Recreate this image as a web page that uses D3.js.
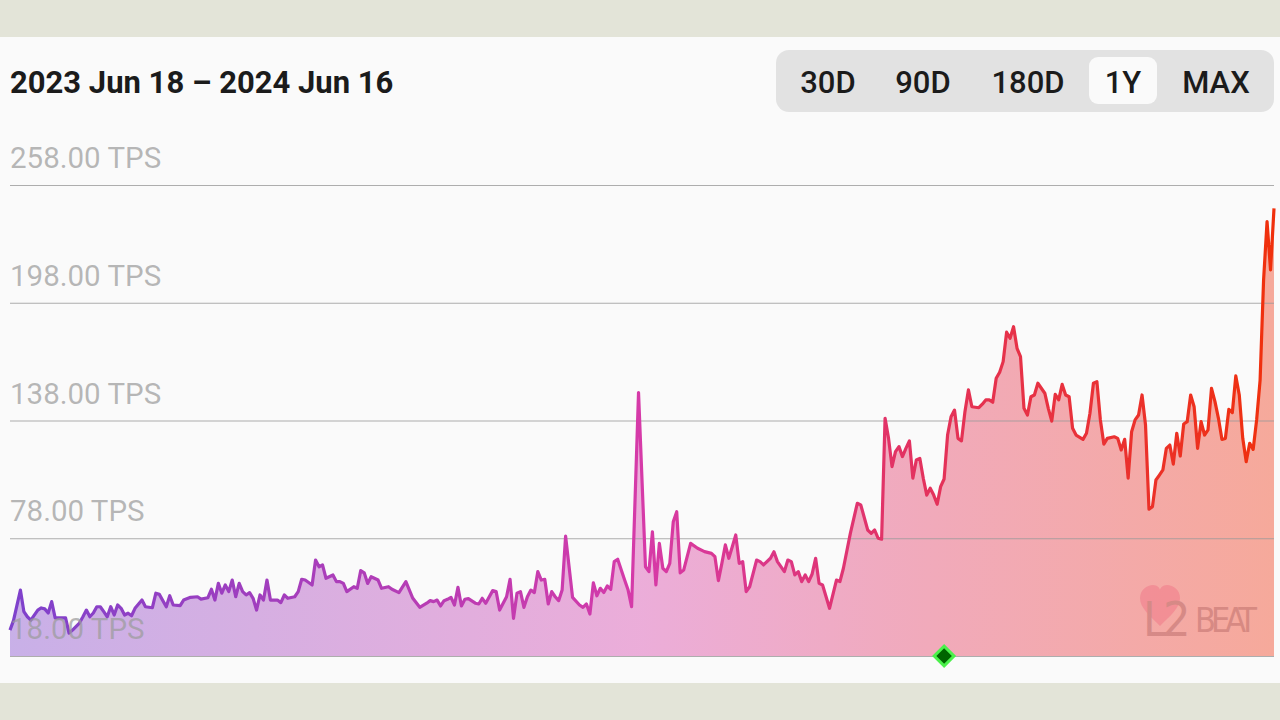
<!DOCTYPE html>
<html><head><meta charset="utf-8">
<script src="https://cdn.jsdelivr.net/npm/d3@7"></script>
<style>
html,body{margin:0;padding:0;background:#e3e4d8;}
svg{display:block;font-family:Roboto,"Noto Sans",sans-serif;}
</style></head>
<body>
<svg id="chart" width="1280" height="720"></svg>
<script>
const startDate = "2023-06-18";
const endDate = "2024-06-16";
const titleText = "2023 Jun 18 – 2024 Jun 16";
const rangeButtons = ["30D", "90D", "180D", "1Y", "MAX"];
const activeButton = "1Y";
const yTicks = [18, 78, 138, 198, 258];
const milestoneDay = 269; // Dencun upgrade
const dayOffsets = [0,1,3,4,5,6,8,9,10,11,12,13,14,15,16,17,18,20,21,22,23,24,25,26,27,28,29,30,31,32,33,34,35,36,38,39,41,42,43,45,46,47,49,50,52,54,55,57,58,59,
60,61,62,63,64,65,66,67,68,69,70,71,72,73,74,75,77,78,79,80,82,83,84,85,87,88,89,90,91,93,94,95,96,97,99,100,101,102,103,104,106,107,109,110,112,114,116,118,120,121,
122,123,124,125,126,127,128,129,130,131,132,134,135,136,137,139,140,141,143,144,145,146,147,148,149,150,151,152,153,154,155,156,157,158,159,160,161,162,164,165,166,167,168,169,170,171,172,173,174,175,177,178,179,181,183,184,185,186,187,188,189,190,191,192,193,194,196,198,200,202,203,204,205,206,207,208,209,210,211,212,213,215,216,217,219,220,221,222,223,224,225,226,227,228,229,230,231,232,233,234,236,238,239,240,242,244,245,247,248,249,250,251,
252,253,254,255,256,257,258,259,260,261,262,263,264,265,266,267,268,269,270,271,272,273,274,275,276,277,279,280,281,282,283,284,285,286,287,288,289,290,291,292,293,294,295,296,298,299,300,301,302,303,304,305,306,307,309,310,311,312,313,314,315,316,318,319,320,321,322,323,324,325,326,327,328,329,330,331,332,333,334,335,336,337,338,339,340,341,342,343,344,345,346,347,348,349,350,351,352,353,354,355,356,357,358,359,360,361,362,363,364];
const tpsValues = [31.2,36.0,51.6,40.6,38.0,36.3,41.4,42.5,42.0,39.9,45.7,37.4,37.4,37.5,37.4,29.7,31.2,34.8,38.0,41.4,38.0,39.9,43.1,43.1,40.6,38.0,43.1,38.9,44.0,42.3,38.9,39.8,38.5,42.3,46.5,43.1,42.6,50.0,49.4,43.1,48.7,44.0,43.7,46.5,47.9,48.2,47.0,47.7,52.0,46.5,
55.0,50.0,54.2,50.8,56.7,48.2,55.0,50.8,49.1,50.3,47.4,41.4,49.1,46.5,56.7,46.5,46.5,45.2,49.1,47.4,48.2,50.8,57.1,56.7,54.2,66.9,63.5,64.4,57.6,59.3,55.9,55.9,55.0,50.8,53.3,52.5,61.5,60.4,55.0,58.4,56.7,52.5,53.3,52.0,50.3,55.9,47.4,42.8,44.9,46.2,
45.7,46.5,43.5,46.2,46.9,47.9,44.0,53.0,43.5,46.9,47.2,44.9,44.5,47.4,44.9,51.3,50.8,41.4,48.2,57.1,37.2,50.0,50.8,42.8,48.2,51.6,50.3,61.0,56.7,57.1,44.5,50.8,48.2,46.2,51.6,79.1,63.5,47.9,44.0,42.8,44.5,39.4,55.3,48.7,52.5,50.3,53.7,52.0,66.1,67.3,56.7,51.6,43.1,152.2,63.5,61.0,81.3,54.2,75.4,62.7,61.0,65.2,86.4,91.5,60.4,61.8,75.4,72.9,71.2,70.3,68.6,56.4,65.2,74.6,67.8,73.7,79.7,65.2,66.1,50.8,53.3,66.9,66.1,64.4,67.8,71.1,66.1,63.5,61.0,66.9,66.1,59.3,61.0,55.9,59.3,55.9,59.8,67.8,55.0,54.2,42.3,56.7,55.9,62.7,80.5,95.8,95.0,82.2,80.5,82.2,78.0,77.5,
139.1,128.9,114.5,122.1,124.7,119.6,123.8,127.6,108.6,117.9,118.7,108.6,100.0,103.5,100.0,95.3,104.3,108.2,130.6,139.9,143.3,128.9,127.6,142.5,153.6,145.0,144.5,146.3,148.5,148.5,147.3,159.5,162.6,168.0,183.0,179.9,185.8,174.8,170.5,144.2,140.8,150.1,151.0,157.0,151.9,144.2,137.7,151.3,148.5,156.4,151.0,150.1,134.0,130.6,128.4,131.5,141.7,157.0,157.8,138.3,126.0,128.9,129.7,128.9,123.0,128.4,108.6,132.3,138.3,140.8,151.0,135.7,92.8,94.1,107.7,110.2,112.8,123.8,125.5,115.8,131.5,119.9,136.2,137.4,151.0,145.0,123.8,137.4,130.6,133.2,154.4,147.6,139.1,128.4,128.9,143.7,142.0,160.7,151.0,128.9,117.0,126.4,123.3,138.3,158.6,209.6,239.3,214.7,246.1];

const W = 1280, H = 720;
const svg = d3.select("#chart");
const parse = d3.utcParse("%Y-%m-%d");
const t0 = parse(startDate), t1 = parse(endDate);
const data = dayOffsets.map((d, i) => ({date: d3.utcDay.offset(t0, d), v: tpsValues[i]}));

const x = d3.scaleUtc().domain([t0, t1]).range([10, 1274]);
const y = d3.scaleLinear().domain([18, 258]).range([656, 185]);

// card
svg.append("rect").attr("x", 0).attr("y", 37).attr("width", W).attr("height", 646).attr("fill", "#fafafa");

// title
svg.append("text").attr("x", 10).attr("y", 93).attr("font-size", 31).attr("font-weight", 700)
  .attr("fill", "#1b1b1b").text(titleText);

// range buttons
const bg = svg.append("g");
bg.append("rect").attr("x", 776).attr("y", 50).attr("width", 498).attr("height", 62).attr("rx", 13).attr("fill", "#e2e2e2");
const btnCenters = [828, 923, 1028, 1123, 1216];
rangeButtons.forEach((b, i) => {
  if (b === activeButton) {
    bg.append("rect").attr("x", btnCenters[i] - 34).attr("y", 57).attr("width", 68).attr("height", 47).attr("rx", 9).attr("fill", "#fafafa");
  }
  bg.append("text").attr("x", btnCenters[i]).attr("y", 93).attr("text-anchor", "middle")
    .attr("font-size", 31).attr("font-weight", 500).attr("fill", "#1b1b1b").text(b);
});

// gradients
const defs = svg.append("defs");
const stops = [[0, "#7e41cc"], [0.5, "#d63aa8"], [0.72, "#e3325e"], [1, "#f0300c"]];
const lg = defs.append("linearGradient").attr("id", "lineGrad").attr("gradientUnits", "userSpaceOnUse")
  .attr("x1", 10).attr("x2", 1274).attr("y1", 0).attr("y2", 0);
stops.forEach(s => lg.append("stop").attr("offset", s[0]).attr("stop-color", s[1]));
const fg = defs.append("linearGradient").attr("id", "fillGrad").attr("gradientUnits", "userSpaceOnUse")
  .attr("x1", 10).attr("x2", 1274).attr("y1", 0).attr("y2", 0);
stops.forEach(s => fg.append("stop").attr("offset", s[0]).attr("stop-color", s[1]).attr("stop-opacity", 0.4));

// area
const area = d3.area().x(d => x(d.date)).y0(y(18)).y1(d => y(d.v));
svg.append("path").datum(data).attr("d", area).attr("fill", "url(#fillGrad)");

// gridlines
const yAxis = d3.axisLeft(y).tickValues(yTicks).tickSize(-(1274 - 10)).tickFormat("");
const ga = svg.append("g").attr("transform", "translate(10,0)").call(yAxis);
ga.select(".domain").remove();
ga.selectAll(".tick line").attr("stroke", "#9a9a9a").attr("stroke-width", 1).attr("stroke-opacity", 0.8);

// line
const line = d3.line().x(d => x(d.date)).y(d => y(d.v));
svg.append("path").datum(data).attr("d", line).attr("fill", "none")
  .attr("stroke", "url(#lineGrad)").attr("stroke-width", 3.2).attr("stroke-linejoin", "round");

// y labels
svg.append("g").selectAll("text").data(yTicks).join("text")
  .attr("x", 10).attr("y", d => y(d) - 17).attr("font-size", 29.5).attr("fill", "#9c9c9c").attr("fill-opacity", 0.72)
  .text(d => d3.format(".2f")(d) + " TPS");

// watermark
const wm = svg.append("g").attr("opacity", 0.35);
wm.append("path").attr("d", "M1160,626 C1150,616 1140,608 1140,598 C1140,590 1147,585 1153,585 C1157,585 1160,588 1160,590 C1160,588 1163,585 1167,585 C1173,585 1180,590 1180,598 C1180,608 1170,616 1160,626 Z")
  .attr("fill", "#f0607a");
wm.append("text").attr("x", 1143).attr("y", 636).attr("font-size", 48).attr("font-family", "'DejaVu Sans Condensed', sans-serif")
  .attr("fill", "#a05050").attr("letter-spacing", -4).text("L2");
wm.append("text").attr("x", 1195).attr("y", 632).attr("font-size", 34).attr("font-family", "'DejaVu Sans Condensed', sans-serif")
  .attr("fill", "#a05050").attr("textLength", 62).text("BEAT");

// milestone diamond
const mx = x(d3.utcDay.offset(t0, milestoneDay));
svg.append("rect").attr("x", -7).attr("y", -7).attr("width", 14).attr("height", 14)
  .attr("transform", `translate(${mx},656) rotate(45)`)
  .attr("fill", "#006400").attr("stroke", "#4bf04b").attr("stroke-width", 3);
</script>
</body></html>
